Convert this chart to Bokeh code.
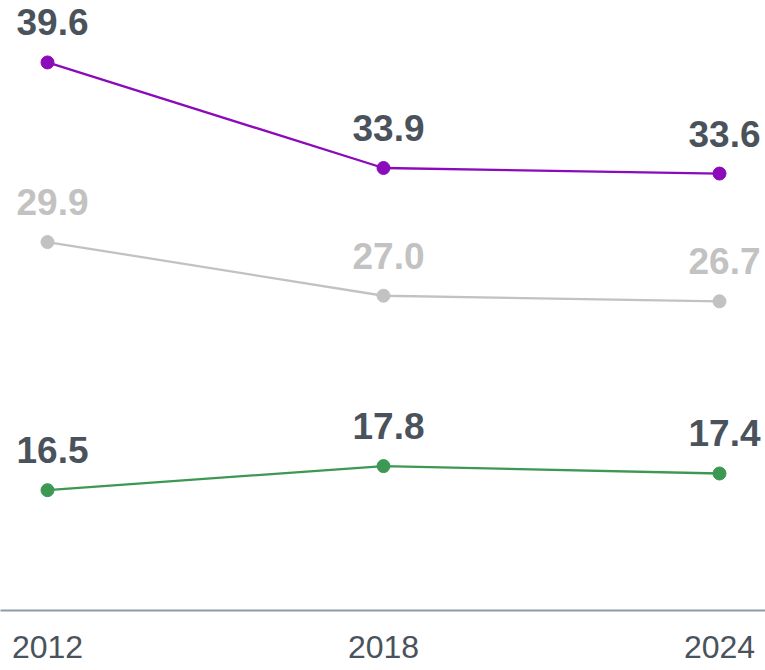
from bokeh.plotting import figure
from bokeh.models import Range1d, FixedTicker, ColumnDataSource
from bokeh.core.properties import value
from bokeh.embed import file_html
from bokeh.resources import INLINE

years = [2012, 2018, 2024]
tick_labels = {2012: "2012", 2018: "2018", 2024: "2024"}
purple_vals = [39.6, 33.9, 33.6]
gray_vals = [29.9, 27.0, 26.7]
green_vals = [16.5, 17.8, 17.4]

PURPLE = "#8b0ab9"
GRAY = "#c2c2c2"
GREEN = "#3c9852"
DARK = "#4a525b"
AXIS = "#8d9ca7"

p = figure(frame_width=765, frame_height=610, output_backend="svg",
           toolbar_location=None,
           x_range=Range1d(2011.1607, 2024.8214), y_range=Range1d(10.0, 42.946),
           min_border_left=0, min_border_right=0, min_border_top=0, min_border_bottom=60)
p.outline_line_color = None
p.background_fill_color = "white"
p.border_fill_color = "white"
p.xgrid.visible = False
p.ygrid.visible = False
p.yaxis.visible = False

ax = p.xaxis[0]
ax.ticker = FixedTicker(ticks=years)
ax.major_label_overrides = tick_labels
ax.major_tick_line_color = None
ax.minor_tick_line_color = None
ax.axis_line_color = AXIS
ax.axis_line_width = 2
ax.major_label_text_font = "Liberation Sans"
ax.major_label_text_font_size = "32px"
ax.major_label_text_color = DARK
ax.major_label_standoff = 19

series = [(purple_vals, PURPLE, DARK), (gray_vals, GRAY, GRAY), (green_vals, GREEN, DARK)]
for vals, col, lab_col in series:
    src = ColumnDataSource(dict(x=years, y=vals, t=[f"{v:.1f}" for v in vals]))
    p.line("x", "y", source=src, line_color=col, line_width=2.3)
    p.scatter("x", "y", source=src, size=13, fill_color=col, line_color=col)
    p.text("x", "y", text="t", source=src, text_font=value("Liberation Sans"),
           text_font_style="bold", text_font_size="37px", text_color=lab_col,
           text_align="center", text_baseline="alphabetic", x_offset=5, y_offset=-40)

open("out.html", "w").write(file_html(p, INLINE))
